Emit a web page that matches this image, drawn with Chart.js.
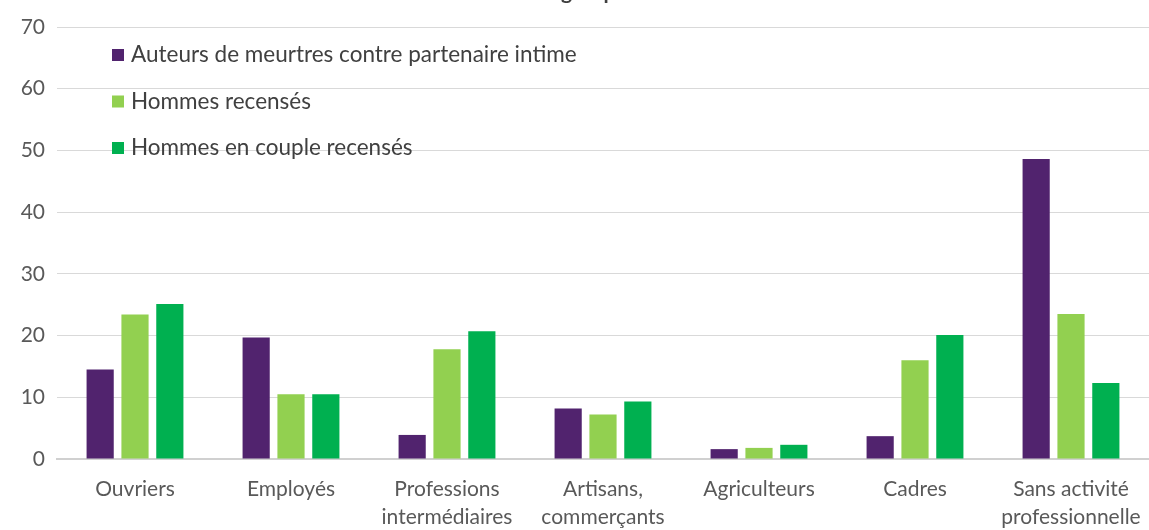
<!DOCTYPE html>
<html>
<head>
<meta charset="utf-8">
<script src="https://cdn.jsdelivr.net/npm/chart.js@4"></script>
<style>
  html, body { margin: 0; padding: 0; background: #fff; overflow: hidden; }
  #wrap { width: 1149px; height: 530px; position: relative; }
</style>
</head>
<body>
<div id="wrap"><canvas id="chart"></canvas></div>
<script>
// Data
const categories = [
    'Ouvriers',
    'Employés',
    ['Professions', 'intermédiaires'],
    ['Artisans,', 'commerçants'],
    'Agriculteurs',
    'Cadres',
    ['Sans activité', 'professionnelle']
];
const auteurs = [14.5, 19.7, 3.9, 8.2, 1.6, 3.7, 48.6];
const hommes = [23.4, 10.5, 17.8, 7.2, 1.8, 16.0, 23.5];
const hommesCouple = [25.1, 10.5, 20.7, 9.3, 2.3, 20.1, 12.3];
const yTicks = [0, 10, 20, 30, 40, 50, 60, 70];

const FONT = 'Lato, "Open Sans", sans-serif';

// Legend drawn inside the plot, top-left, one entry per line
const insideLegend = {
    id: 'insideLegend',
    afterDraw(chart) {
        const ctx = chart.ctx;
        const area = chart.chartArea;
        ctx.save();
        ctx.font = '22.5px ' + FONT;
        ctx.textBaseline = 'middle';
        chart.data.datasets.forEach((ds, i) => {
            const y = area.top + 28 + i * 46.5;
            const x = area.left + 55;
            ctx.fillStyle = ds.backgroundColor;
            ctx.fillRect(x, y - 6, 12, 12);
            ctx.fillStyle = '#404040';
            ctx.fillText(ds.label, x + 19, y);
        });
        ctx.restore();
    }
};

// Title is cut off in the reference: only the descenders of "groupe" show
const clippedTitle = {
    id: 'clippedTitle',
    afterDraw(chart) {
        const ctx = chart.ctx;
        ctx.save();
        ctx.font = 'bold 21px ' + FONT;
        ctx.fillStyle = '#404040';
        ctx.textBaseline = 'alphabetic';
        ctx.fillText('groupe', 561, -1);
        ctx.restore();
    }
};

const ctx = document.getElementById('chart').getContext('2d');
new Chart(ctx, {
    type: 'bar',
    data: {
        labels: categories,
        datasets: [
            { label: 'Auteurs de meurtres contre partenaire intime', data: auteurs, backgroundColor: '#51236e' },
            { label: 'Hommes recensés', data: hommes, backgroundColor: '#92d050' },
            { label: 'Hommes en couple recensés', data: hommesCouple, backgroundColor: '#00b050' }
        ]
    },
    options: {
        responsive: true,
        maintainAspectRatio: false,
        animation: false,
        layout: { padding: { top: 27, right: 0, left: 0, bottom: 0 } },
        datasets: {
            bar: { categoryPercentage: 0.67, barPercentage: 0.78 }
        },
        plugins: {
            legend: { display: false },
            tooltip: { enabled: false }
        },
        scales: {
            x: {
                afterFit: axis => {
                    axis.height = 71;
                    axis.paddingLeft = 0;
                    axis.paddingRight = 0;
                },
                grid: { display: false, drawTicks: false },
                border: { color: '#d0d0d0', width: 2 },
                ticks: {
                    color: '#595959',
                    font: { family: FONT, size: 21, lineHeight: 1.3 },
                    padding: 17,
                    maxRotation: 0,
                    autoSkip: false
                }
            },
            y: {
                min: 0,
                max: 70,
                afterBuildTicks: axis => { axis.ticks = yTicks.map(v => ({ value: v })); },
                afterFit: axis => { axis.width = 57; },
                grid: { color: '#d9d9d9', drawTicks: false },
                border: { display: false },
                ticks: {
                    color: '#595959',
                    font: { family: FONT, size: 21 },
                    padding: 12
                }
            }
        }
    },
    plugins: [insideLegend, clippedTitle]
});
</script>
</body>
</html>
